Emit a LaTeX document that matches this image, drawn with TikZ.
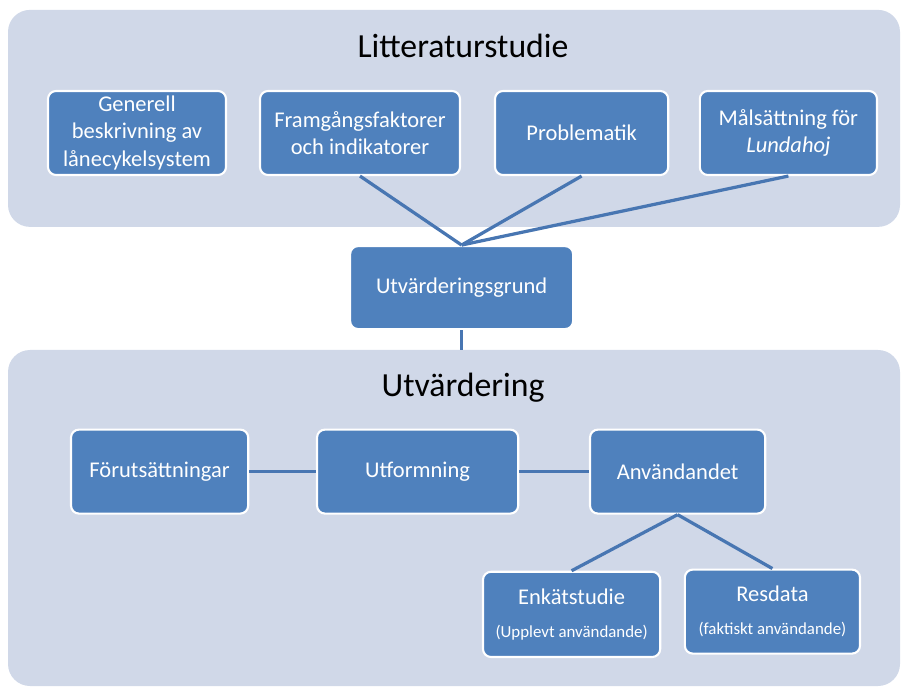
\documentclass[tikz,border=0pt]{standalone}
\usepackage{fontspec}
\setmainfont{Carlito}
\usepackage{tikz}
\usetikzlibrary{calc}
\definecolor{panelgrey}{RGB}{208,216,232}
\definecolor{boxblue}{RGB}{79,129,189}
\definecolor{lineblue}{RGB}{72,118,178}
\tikzstyle{panel}=[fill=panelgrey, rounded corners=0.55cm, inner sep=0pt]
\tikzstyle{heading}=[font=\fontsize{24}{28}\selectfont]
\tikzstyle{box}=[fill=boxblue, draw=white, line width=1.5pt, rounded corners=0.2cm,
  text=white, align=center, font=\fontsize{16}{19.5}\selectfont,
  minimum height=2.1cm, inner sep=2pt]
\tikzstyle{link}=[lineblue, line width=2.3pt]
\newcommand{\subtext}[1]{{\fontsize{12}{14}\selectfont #1}}

\begin{document}
\begin{tikzpicture}
\useasboundingbox (0,0) rectangle (22.55,17.2);
% the two grey panels
\node[panel, minimum width=22.3cm, minimum height=5.425cm] (litpanel) at (11.35,14.24) {};
\node[panel, minimum width=22.3cm, minimum height=8.4cm] (utvpanel) at (11.35,4.25) {};
\node[heading] (littitle) at (11.575,16.05) {Litteraturstudie};
\node[heading] (utvtitle) at (11.575,7.5) {Utvärdering};
% litteraturstudie
\node[box, minimum width=4.45cm] (generell) at (3.425,13.875) {Generell\\beskrivning av\\lånecykelsystem};
\node[box, minimum width=5.0cm] (framgang) at (9.0,13.875) {Framgångsfaktorer\\och indikatorer};
\node[box, minimum width=4.33cm] (problem) at (14.54,13.875) {Problematik};
\node[box, minimum width=4.43cm] (malsattning) at (19.71,13.875) {Målsättning för\\\textit{Lundahoj}};
\node[box, minimum width=5.575cm, minimum height=2.075cm] (grund) at (11.54,10.01) {Utvärderingsgrund};
% utvardering
\node[box, minimum width=4.43cm] (forut) at (3.99,5.41) {Förutsättningar};
\node[box, minimum width=5.03cm] (utform) at (10.44,5.41) {Utformning};
\node[box, minimum width=4.38cm] (anvand) at (16.94,5.41) {Användandet};
\node[box, minimum width=4.43cm, minimum height=2.13cm] (enkat) at (14.29,1.84) {Enkätstudie\\[4pt]\subtext{(Upplevt användande)}};
\node[box, minimum width=4.38cm] (resdata) at (19.31,1.91) {Resdata\\[4pt]\subtext{(faktiskt användande)}};
% connectors
\draw[link] (framgang.south) -- (grund.north);
\draw[link] (problem.south) -- (grund.north);
\draw[link] (malsattning.south) -- (grund.north);
\draw[link] (grund.south) -- (grund.south |- utvpanel.north);
\draw[link] (forut) -- (utform);
\draw[link] (utform) -- (anvand);
\draw[link] (anvand.south) -- (enkat.north);
\draw[link] (anvand.south) -- (resdata.north);
\end{tikzpicture}
\end{document}
